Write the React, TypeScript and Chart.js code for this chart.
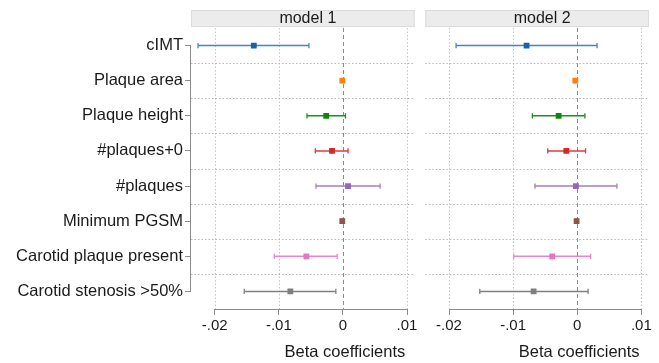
import React, { useEffect, useRef } from "react";
import { Chart, registerables } from "chart.js";

Chart.register(...registerables);

const categories = [
  "cIMT",
  "Plaque area",
  "Plaque height",
  "#plaques+0",
  "#plaques",
  "Minimum PGSM",
  "Carotid plaque present",
  "Carotid stenosis >50%",
];

const model1Est = [-0.0139, -0.0001, -0.0026, -0.0017, 0.0008, -0.0001, -0.0057, -0.0082];
const model1Lo = [-0.0226, -0.0002, -0.0056, -0.0043, -0.0042, -0.0002, -0.0107, -0.0154];
const model1Hi = [-0.0053, 0.0, 0.0004, 0.0008, 0.0058, 0.0, -0.0009, -0.0011];

const model2Est = [-0.0079, -0.0003, -0.0029, -0.0017, -0.0002, -0.0001, -0.0039, -0.0068];
const model2Lo = [-0.0189, -0.0004, -0.007, -0.0046, -0.0066, -0.0002, -0.0099, -0.0152];
const model2Hi = [0.0031, -0.0002, 0.0012, 0.0013, 0.0062, 0.0, 0.0021, 0.0017];

const xTicks = [-0.02, -0.01, 0, 0.01];
const xTickLabels = ["-.02", "-.01", "0", ".01"];
const panelTitles = ["model 1", "model 2"];
const xTitle = "Beta coefficients";

const markerColors = ["#1d5fab", "#ff7f0e", "#0f840f", "#d62728", "#9467bd", "#8c564b", "#e377c2", "#7f7f7f"];
const lineColors = ["#3f87cc", "#ff7f0e", "#1f901f", "#de3a3b", "#a07dc8", "#8c564b", "#ea86cb", "#808080"];

const FONT = "'Liberation Sans', Arial, Helvetica, sans-serif";

function makePlugin(title: string, drawYAxis: boolean) {
  return {
    id: "stataDecor",
    beforeDatasetsDraw(chart: any) {
      const ctx = chart.ctx;
      const { left, right, top, bottom } = chart.chartArea;
      const xs = chart.scales.x;
      const ys = chart.scales.y;
      ctx.save();
      xTicks.forEach((v) => {
        const px = Math.round(xs.getPixelForValue(v)) + 0.5;
        ctx.beginPath();
        if (v === 0) {
          ctx.setLineDash([4, 3]);
          ctx.strokeStyle = "#8a8a8a";
        } else {
          ctx.setLineDash([1.5, 2]);
          ctx.strokeStyle = "#c4c4c4";
        }
        ctx.lineWidth = 1;
        ctx.moveTo(px, top);
        ctx.lineTo(px, bottom);
        ctx.stroke();
      });
      ctx.setLineDash([1.5, 2]);
      ctx.strokeStyle = "#b8b8b8";
      for (let i = 0; i < categories.length - 1; i++) {
        const py = Math.round(ys.getPixelForValue(i + 0.5)) + 0.5;
        ctx.beginPath();
        ctx.moveTo(left, py);
        ctx.lineTo(right, py);
        ctx.stroke();
      }
      ctx.setLineDash([]);
      ctx.strokeStyle = "#8c8c8c";
      ctx.lineWidth = 1;
      const by = Math.round(bottom) + 0.5;
      ctx.beginPath();
      ctx.moveTo(xs.getPixelForValue(xTicks[0]), by);
      ctx.lineTo(xs.getPixelForValue(xTicks[xTicks.length - 1]), by);
      ctx.stroke();
      if (drawYAxis) {
        const lx = Math.round(left) - 0.5;
        ctx.beginPath();
        ctx.moveTo(lx, ys.getPixelForValue(0));
        ctx.lineTo(lx, ys.getPixelForValue(categories.length - 1));
        ctx.stroke();
      }
      ctx.restore();
    },
    afterDraw(chart: any) {
      const ctx = chart.ctx;
      const { left, right } = chart.chartArea;
      const xs = chart.scales.x;
      ctx.save();
      ctx.fillStyle = "#ececec";
      ctx.strokeStyle = "#dcdcdc";
      ctx.fillRect(left, 10, right - left, 17);
      ctx.strokeRect(left + 0.5, 10.5, right - left - 1, 16);
      ctx.fillStyle = "#1a1a1a";
      ctx.font = `16px ${FONT}`;
      ctx.textAlign = "center";
      ctx.textBaseline = "middle";
      ctx.fillText(title, (left + right) / 2 + 5, 19);
      ctx.font = `16.5px ${FONT}`;
      ctx.fillText(xTitle, xs.getPixelForValue(0) + 2, 352);
      ctx.restore();
    },
  };
}

function makeConfig(est: number[], lo: number[], hi: number[], title: string, showY: boolean, padLeft: number, padRight: number) {
  const datasets: any[] = [];
  categories.forEach((_, i) => {
    datasets.push({
      type: "line",
      data: [
        { x: lo[i], y: i },
        { x: hi[i], y: i },
      ],
      borderColor: lineColors[i],
      backgroundColor: lineColors[i],
      borderWidth: 1.5,
      pointStyle: "line",
      pointRotation: 90,
      pointRadius: 2.6,
      pointBorderWidth: 1.3,
      pointBorderColor: lineColors[i],
      order: 2,
    });
  });
  datasets.push({
    type: "scatter",
    data: est.map((v, i) => ({ x: v, y: i })),
    pointStyle: "rect",
    pointRadius: 4.1,
    pointBackgroundColor: markerColors,
    pointBorderColor: markerColors,
    pointBorderWidth: 0,
    order: 1,
  });
  return {
    type: "scatter",
    data: { datasets },
    options: {
      animation: false,
      responsive: false,
      maintainAspectRatio: false,
      events: [],
      layout: { padding: { left: padLeft, right: padRight, top: 28, bottom: 0 } },
      plugins: { legend: { display: false }, tooltip: { enabled: false }, title: { display: false } },
      scales: {
        x: {
          type: "linear",
          min: -0.0237,
          max: 0.0112,
          afterBuildTicks: (scale: any) => {
            scale.ticks = xTicks.map((v) => ({ value: v }));
          },
          afterFit: (scale: any) => {
            scale.height = 54;
          },
          ticks: {
            autoSkip: false,
            maxRotation: 0,
            padding: 2,
            color: "#1a1a1a",
            font: { family: FONT, size: 15 },
            callback: (v: number) => {
              const idx = xTicks.findIndex((t) => Math.abs(t - v) < 1e-9);
              return idx >= 0 ? xTickLabels[idx] : "";
            },
          },
          grid: { display: true, drawOnChartArea: false, drawTicks: true, tickLength: 6, color: "#8c8c8c", lineWidth: 1 },
          border: { display: false },
        },
        y: {
          type: "linear",
          display: showY,
          reverse: true,
          min: -0.5,
          max: categories.length - 0.5,
          afterBuildTicks: (scale: any) => {
            scale.ticks = categories.map((_, i) => ({ value: i }));
          },
          afterFit: (scale: any) => {
            if (showY) scale.width = 191;
          },
          ticks: {
            autoSkip: false,
            padding: 2,
            color: "#1a1a1a",
            font: { family: FONT, size: 16.5 },
            callback: (v: number) => categories[Math.round(v)] ?? "",
          },
          grid: { display: true, drawOnChartArea: false, drawTicks: true, tickLength: 6, color: "#8c8c8c", lineWidth: 1 },
          border: { display: false },
        },
      },
    },
    plugins: [makePlugin(title, showY)],
  };
}

function Panel(props: { left: number; width: number; config: any }) {
  const ref = useRef<HTMLCanvasElement>(null);
  useEffect(() => {
    if (!ref.current) return;
    const chart = new Chart(ref.current, props.config);
    return () => chart.destroy();
  }, []);
  return (
    <canvas
      ref={ref}
      width={props.width}
      height={363}
      style={{ position: "absolute", left: props.left, top: 0, width: props.width, height: 363 }}
    />
  );
}

export default function App() {
  const c1 = makeConfig(model1Est, model1Lo, model1Hi, panelTitles[0], true, 0, 4);
  const c2 = makeConfig(model2Est, model2Lo, model2Hi, panelTitles[1], false, 5, 10);
  return (
    <div style={{ position: "fixed", left: 0, top: 0, width: 659, height: 363, background: "#ffffff", overflow: "hidden" }}>
      <Panel left={0} width={420} config={c1} />
      <Panel left={420} width={239} config={c2} />
    </div>
  );
}
